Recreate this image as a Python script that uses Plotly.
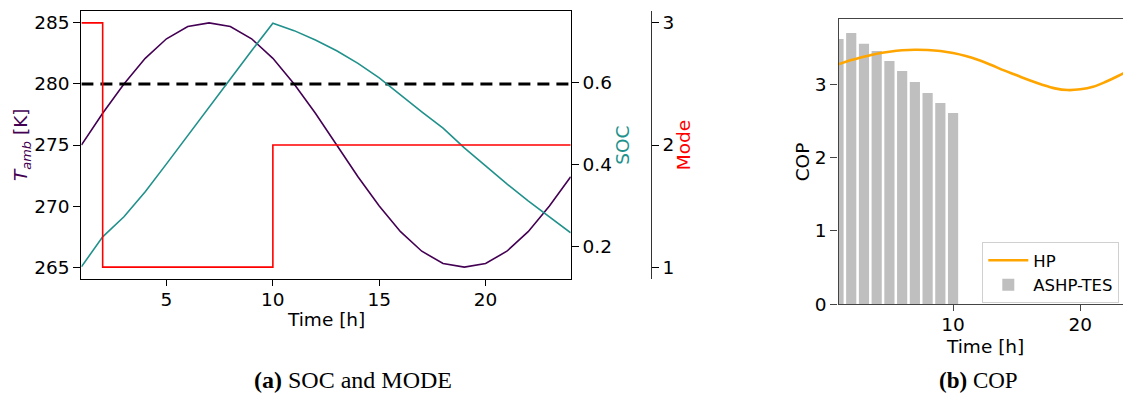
import plotly.graph_objects as go

# ---------------- data ----------------
hours = list(range(1, 25))
t_amb = [275.0, 277.6, 280.0, 282.1, 283.7, 284.7, 285.0, 284.7, 283.7, 282.1,
         280.0, 277.6, 275.0, 272.4, 270.0, 267.9, 266.3, 265.3, 265.0, 265.3,
         266.3, 267.9, 270.0, 272.4]
soc = [0.151, 0.224, 0.273, 0.334, 0.402, 0.470, 0.539, 0.609, 0.678, 0.745,
       0.727, 0.704, 0.678, 0.647, 0.612, 0.570, 0.529, 0.489, 0.441, 0.397,
       0.353, 0.312, 0.272, 0.234]
mode = [3, 1, 1, 1, 1, 1, 1, 1, 1, 2, 2, 2, 2, 2, 2, 2, 2, 2, 2, 2, 2, 2, 2, 2]
t_threshold = 280.0

cop_hp = [3.273, 3.331, 3.377, 3.418, 3.445, 3.464, 3.472, 3.468, 3.454, 3.427,
          3.386, 3.331, 3.263, 3.190, 3.123, 3.055, 2.995, 2.945, 2.922, 2.932,
          2.967, 3.035, 3.117, 3.210]
tes_hours = [1, 2, 3, 4, 5, 6, 7, 8, 9, 10]
cop_tes = [3.618, 3.700, 3.554, 3.454, 3.318, 3.181, 3.031, 2.881, 2.745, 2.609]

x_ticks_a = [5, 10, 15, 20]
y_ticks_a = [265, 270, 275, 280, 285]
soc_ticks = [0.2, 0.4, 0.6]
mode_ticks = [1, 2, 3]
x_ticks_b = [10, 20]
y_ticks_b = [0, 1, 2, 3]

# ---------------- styling ----------------
W, H = 1123, 396
PURPLE = "#440154"
TEAL = "#21918c"
RED = "#ff0000"
ORANGE = "#ffa500"
GREY = "#bfbfbf"
FONT = "DejaVu Sans"
FS = 18.5

def px_x(x):
    return x / W

def px_y(y):
    return 1 - y / H

fig = go.Figure()

# ---- (a) SOC and MODE ----
fig.add_trace(go.Scatter(x=hours, y=t_amb, mode="lines", line=dict(color=PURPLE, width=1.6),
                         xaxis="x", yaxis="y", showlegend=False))
fig.add_trace(go.Scatter(x=[hours[0], hours[-1]], y=[t_threshold, t_threshold], mode="lines",
                         line=dict(color="black", width=3, dash="12px,7px"),
                         xaxis="x", yaxis="y", showlegend=False))
fig.add_trace(go.Scatter(x=hours, y=soc, mode="lines", line=dict(color=TEAL, width=1.6),
                         xaxis="x", yaxis="y2", showlegend=False))
fig.add_trace(go.Scatter(x=hours, y=mode, mode="lines", line=dict(color=RED, width=1.6, shape="hv"),
                         xaxis="x", yaxis="y3", showlegend=False))

# ---- (b) COP ----
fig.add_trace(go.Scatter(x=hours, y=cop_hp, mode="lines", name="HP",
                         line=dict(color=ORANGE, width=2.6, shape="spline", smoothing=1.0),
                         xaxis="x2", yaxis="y4"))
fig.add_trace(go.Bar(x=tes_hours, y=cop_tes, name="ASHP-TES", width=0.8,
                     marker=dict(color=GREY, line=dict(width=0)),
                     xaxis="x2", yaxis="y4"))

axis_common = dict(showgrid=False, zeroline=False, ticks="outside", ticklen=7, tickwidth=1.3,
                   tickcolor="black", tickfont=dict(family=FONT, size=FS, color="black"),
                   showline=True, linecolor="black", linewidth=1.3, automargin=False)
xaxis_extra = dict(ticklen=6, ticklabelstandoff=-3)

fig.update_layout(
    template="none",
    width=W, height=H, autosize=False,
    margin=dict(l=0, r=0, t=0, b=0, pad=0),
    paper_bgcolor="white", plot_bgcolor="white",
    font=dict(family=FONT, size=FS, color="black"),
    xaxis=dict(domain=[px_x(81.4), px_x(570.7)], range=[1, 24], tickvals=x_ticks_a,
               mirror=True, anchor="y", **{**axis_common, **xaxis_extra}),
    yaxis=dict(domain=[px_y(279.3), px_y(10.7)], range=[264, 286], tickvals=y_ticks_a,
               anchor="x", **axis_common),
    yaxis2=dict(overlaying="y", side="right", anchor="x", range=[0.1205, 0.7756],
                tickvals=soc_ticks, ticktext=["0.2", "0.4", "0.6"], **axis_common),
    yaxis3=dict(overlaying="y", side="right", anchor="free", position=px_x(650.7),
                range=[0.9, 3.1], tickvals=mode_ticks,
                **{**axis_common, "linecolor": "#333333"}),
    xaxis2=dict(domain=[px_x(838.5), 1.0], range=[1, 23.35], tickvals=x_ticks_b,
                mirror=True, anchor="y4",
                **{**axis_common, **xaxis_extra, "linecolor": "#444444", "tickcolor": "#444444"}),
    yaxis4=dict(domain=[px_y(304.3), px_y(19.3)], range=[0, 3.887], tickvals=y_ticks_b,
                anchor="x2", **{**axis_common, "linecolor": "#444444", "tickcolor": "#444444"}),
    bargap=0.2,
    legend=dict(x=px_x(982.3), y=px_y(242), xanchor="left", yanchor="top",
                font=dict(family=FONT, size=16.5, color="black"),
                bgcolor="rgba(255,255,255,0.85)", bordercolor="#d0d0d0", borderwidth=1,
                traceorder="normal", itemwidth=40),
    showlegend=True,
)

ann = []
def add_text(text, x, y, color="black", size=FS, angle=0, family=FONT):
    ann.append(dict(text=text, x=px_x(x), y=px_y(y), xref="paper", yref="paper",
                    showarrow=False, textangle=angle, xanchor="center", yanchor="middle",
                    font=dict(family=family, size=size, color=color)))

add_text("<i>T</i><sub><i>amb</i></sub> [K]", 22, 145, color=PURPLE, angle=-90)
add_text("SOC", 621.7, 145, color=TEAL, angle=-90)
add_text("Mode", 683.3, 145, color=RED, angle=-90)
add_text("Time [h]", 326, 319)
add_text("Time [h]", 985, 346)
add_text("COP", 802.5, 161.8, angle=-90)
add_text("<b>(a)</b> SOC and MODE", 352.8, 380, size=24, family="Liberation Serif")
add_text("<b>(b)</b> COP", 978.3, 380, size=23, family="Liberation Serif")
fig.update_layout(annotations=ann)

fig.write_html("out.html", config={"displayModeBar": False},
               post_script="document.body.style.margin='0';document.body.style.overflow='hidden';")
